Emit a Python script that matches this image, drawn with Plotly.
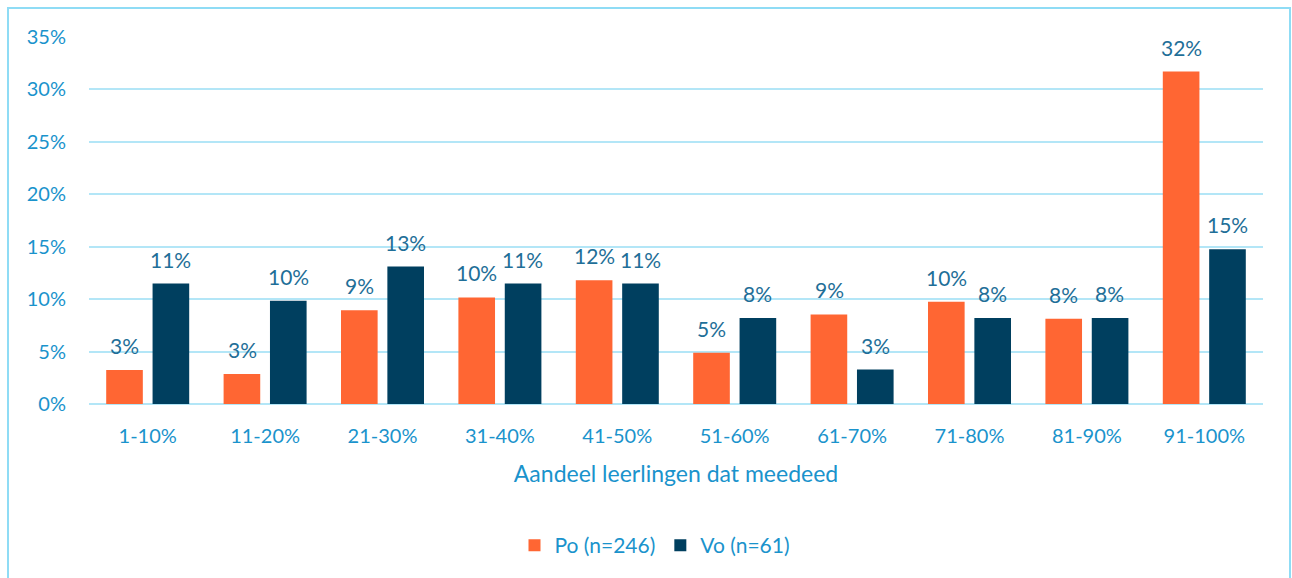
import plotly.graph_objects as go

categories = ["1-10%", "11-20%", "21-30%", "31-40%", "41-50%",
              "51-60%", "61-70%", "71-80%", "81-90%", "91-100%"]
po_values = [3.25, 2.85, 8.94, 10.16, 11.79, 4.88, 8.54, 9.76, 8.13, 31.71]
vo_values = [11.48, 9.84, 13.11, 11.48, 11.48, 8.20, 3.28, 8.20, 8.20, 14.75]
po_labels = ["3%", "3%", "9%", "10%", "12%", "5%", "9%", "10%", "8%", "32%"]
vo_labels = ["11%", "10%", "13%", "11%", "11%", "8%", "3%", "8%", "8%", "15%"]
tick_vals = [0, 5, 10, 15, 20, 25, 30, 35]
tick_text = ["0%", "5%", "10%", "15%", "20%", "25%", "30%", "35%"]

FONT = "Lato"
TICK_COLOR = "#1a93cc"
LABEL_COLOR = "#1f6f98"
PO_COLOR = "#ff6633"
VO_COLOR = "#003f5f"

fig = go.Figure()
fig.add_trace(go.Bar(x=categories, y=po_values, name="Po (n=246)",
                     marker=dict(color=PO_COLOR, line=dict(width=0))))
fig.add_trace(go.Bar(x=categories, y=vo_values, name="Vo (n=61)",
                     marker=dict(color=VO_COLOR, line=dict(width=0))))

annotations = []
for vals, labels, shift in ((po_values, po_labels, -23), (vo_values, vo_labels, 23)):
    for c, v, t in zip(categories, vals, labels):
        annotations.append(dict(
            x=c, y=v, text=t, showarrow=False, xref="x", yref="y",
            xshift=shift, yshift=10, yanchor="bottom", xanchor="center",
            font=dict(size=21, color=LABEL_COLOR, family=FONT),
        ))

L, R, T, B = 89, 29, 37, 174
W, H = 1292, 578
pw, ph = W - L - R, H - T - B

fig.update_layout(
    width=W, height=H,
    margin=dict(l=L, r=R, t=T, b=B, autoexpand=False),
    paper_bgcolor="white", plot_bgcolor="white",
    barmode="group", bargap=0.21, bargroupgap=0.21,
    font=dict(family=FONT, color=TICK_COLOR, size=20),
    showlegend=True,
    legend=dict(orientation="h", x=(655 - L) / pw, xanchor="center", y=-0.33, yanchor="top",
                font=dict(size=21, color=TICK_COLOR, family=FONT),
                itemwidth=30, traceorder="normal"),
    xaxis=dict(
        showgrid=False, showline=False, ticks="", automargin=False,
        ticklabelstandoff=18,
        tickfont=dict(size=20, color=TICK_COLOR, family=FONT),
        title=dict(text="Aandeel leerlingen dat meedeed",
                   font=dict(size=23, color=TICK_COLOR, family=FONT), standoff=19),
    ),
    yaxis=dict(
        range=[0, 35], tickvals=tick_vals, ticktext=tick_text, automargin=False,
        showgrid=True, gridcolor="#b3e6f7", gridwidth=2,
        zeroline=True, zerolinecolor="#b3e6f7", zerolinewidth=2,
        showline=False, ticks="", ticklabelstandoff=22,
        tickfont=dict(size=20, color=TICK_COLOR, family=FONT),
    ),
    annotations=annotations,
    shapes=[dict(
        type="rect", xref="paper", yref="paper",
        x0=(8 - L) / pw, x1=(1290 - L) / pw,
        y0=-(H - T + 20) / ph, y1=1 + (T - 8) / ph,
        line=dict(color="#8fdcf5", width=2), fillcolor="rgba(0,0,0,0)", layer="below",
    )],
)

fig.write_html("out.html", config={"displayModeBar": False},
               post_script="document.body.style.margin='0';")
